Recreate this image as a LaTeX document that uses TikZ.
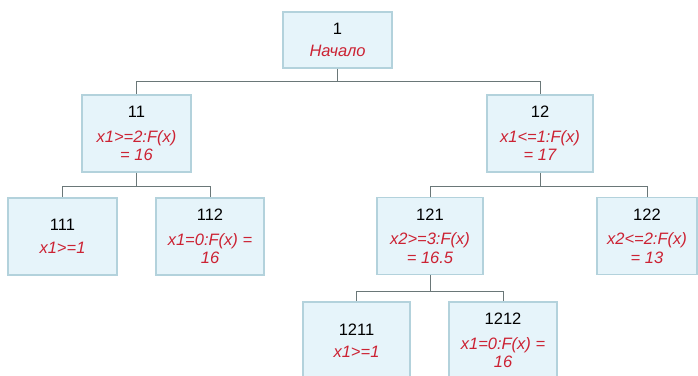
\documentclass[tikz,border=0pt]{standalone}
\usepackage{fontspec}
\setmainfont{Liberation Sans}
\usetikzlibrary{positioning}

\definecolor{boxfill}{HTML}{E6F4FA}
\definecolor{boxline}{HTML}{B3D2DC}
\definecolor{linkgray}{HTML}{6A7778}
\definecolor{condred}{HTML}{CC2233}

\newcommand{\cnd}[1]{\textcolor{condred}{\itshape #1}}

\tikzset{
  vbox/.style={draw=boxline, fill=boxfill, line width=1.6pt, minimum height=77pt,
    align=center, inner sep=1pt, font=\fontsize{16.5}{18.5}\selectfont},
  link/.style={draw=linkgray, line width=1pt}
}

\begin{document}
\begin{tikzpicture}[x=1pt,y=-1pt]
\useasboundingbox[fill=white] (0,0) rectangle (698,375);

        % the root
        \node[vbox, minimum width=109pt, minimum height=56pt] (n1) at (337.5,40) {1\\[4pt]\cnd{Начало}};

        % second level
        \node[vbox, minimum width=109pt] (n11) at (136.5,133.5) {11\\[6pt]\cnd{x1>=2:F(x)}\\\cnd{= 16}};
        \node[vbox, minimum width=106pt] (n12) at (540,133.5) {12\\[6pt]\cnd{x1<=1:F(x)}\\\cnd{= 17}};

        % third level
        \node[vbox, minimum width=109pt] (n111) at (62.5,236.5) {111\\[4pt]\cnd{x1>=1}};
        \node[vbox, minimum width=108pt] (n112) at (210,236.5) {112\\[6pt]\cnd{x1=0:F(x) =}\\\cnd{16}};
        \node[vbox, minimum width=106pt] (n121) at (430,236) {121\\[6pt]\cnd{x2>=3:F(x)}\\\cnd{= 16.5}};
        \node[vbox, minimum width=100pt] (n122) at (647,236) {122\\[6pt]\cnd{x2<=2:F(x)}\\\cnd{= 13}};

        % fourth level, runs off the bottom edge
        \node[vbox, minimum width=107pt] (n1211) at (356.5,340.5) {1211\\[4pt]\cnd{x1>=1}};
        \node[vbox, minimum width=108pt] (n1212) at (503,340.5) {1212\\[6pt]\cnd{x1=0:F(x) =}\\\cnd{16}};

        \draw[link] (n1.south) -- ++(0,13) -| (n11.north);
        \draw[link] (n1.south) -- ++(0,13) -| (n12.north);
        \draw[link] (n11.south) -- ++(0,14) -| (n111.north);
        \draw[link] (n11.south) -- ++(0,14) -| (n112.north);
        \draw[link] (n12.south) -- ++(0,14) -| (n121.north);
        \draw[link] (n12.south) -- ++(0,14) -| (n122.north);
        \draw[link] (n121.south) -- ++(0,16) -| (n1211.north);
        \draw[link] (n121.south) -- ++(0,16) -| (n1212.north);
\end{tikzpicture}
\end{document}
